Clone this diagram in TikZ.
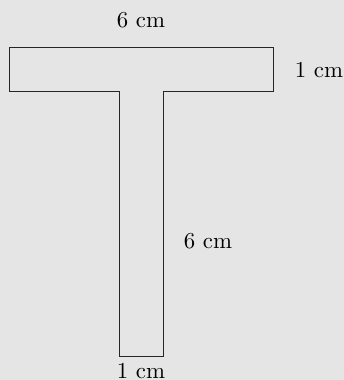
\documentclass[tikz,border=0pt]{standalone}
\begin{document}
\begin{tikzpicture}[x=0.43pt,y=-0.43pt,
  shape line/.style={draw=black!85,line width=0.4pt},
  dimlabel/.style={inner sep=0pt,font=\fontsize{9.8}{12}\selectfont}]
\fill[black!10] (0,0) rectangle (344,380);
\useasboundingbox (0,0) rectangle (344,380);
\coordinate (p1) at (9,47);
\coordinate (p2) at (273,47);
\coordinate (p3) at (273,91);
\coordinate (p4) at (163,91);
\coordinate (p5) at (163,356);
\coordinate (p6) at (119,356);
\coordinate (p7) at (119,91);
\coordinate (p8) at (9,91);
\draw[shape line] (p1) -- (p2) -- (p3) -- (p4) -- (p5) -- (p6) -- (p7) -- (p8) -- cycle;
\node[dimlabel] (top) at (141,20) {6 cm};
\node[dimlabel] (right) at (319,70) {1 cm};
\node[dimlabel] (stem) at (208,241) {6 cm};
\node[dimlabel] (bottom) at (141,371) {1 cm};
\end{tikzpicture}
\end{document}
